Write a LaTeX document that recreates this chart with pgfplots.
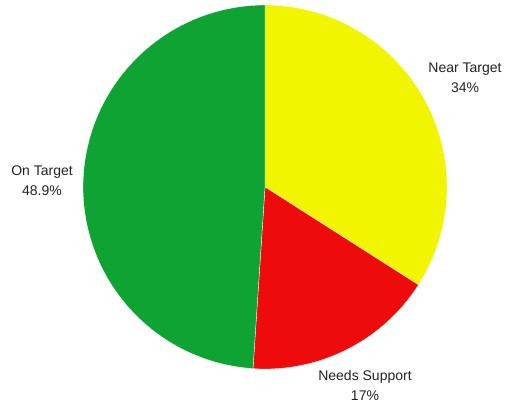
\documentclass[border=0pt]{standalone}
\usepackage{pgfplots}
\pgfplotsset{compat=1.18}
\usepackage{fontspec}
\setmainfont{Liberation Sans}
\definecolor{cNear}{HTML}{F2F500}
\definecolor{cNeeds}{HTML}{EE0B0B}
\definecolor{cOn}{HTML}{0FA333}
\definecolor{txt}{HTML}{222222}
% data (percent)
\def\vNear{34}
\def\vNeeds{17}
\def\vOn{48.9}
\pgfmathsetmacro{\tot}{\vNear+\vNeeds+\vOn}
\pgfmathsetmacro{\aA}{90}
\pgfmathsetmacro{\aB}{\aA-\vNear/\tot*360}
\pgfmathsetmacro{\aC}{\aB-\vNeeds/\tot*360}
\pgfmathsetmacro{\aD}{\aC-\vOn/\tot*360}
\def\cx{265}
\def\cy{220}
\def\rr{182}
\begin{document}
\begin{tikzpicture}
\begin{axis}[
  hide axis,
  scale only axis,
  width=510pt, height=407pt,
  xmin=0, xmax=510, ymin=0, ymax=407,
  clip=false,
]
\path[draw=none] (axis cs:0,0) rectangle (axis cs:510,407);
\addplot[draw=white, line width=0.3pt, fill=cNear, samples=120, domain=\aB:\aA, variable=\t]
  ({\cx+\rr*cos(\t)},{\cy+\rr*sin(\t)}) -- (axis cs:\cx,\cy) -- cycle;
\addplot[draw=white, line width=0.3pt, fill=cNeeds, samples=80, domain=\aC:\aB, variable=\t]
  ({\cx+\rr*cos(\t)},{\cy+\rr*sin(\t)}) -- (axis cs:\cx,\cy) -- cycle;
\addplot[draw=white, line width=0.3pt, fill=cOn, samples=160, domain=\aD:\aC, variable=\t]
  ({\cx+\rr*cos(\t)},{\cy+\rr*sin(\t)}) -- (axis cs:\cx,\cy) -- cycle;
\node[align=center, text=txt, font=\fontsize{14}{20}\selectfont] at (axis cs:465,329) {Near Target\\34\%};
\node[align=center, text=txt, font=\fontsize{14}{20}\selectfont] at (axis cs:365,22) {Needs Support\\17\%};
\node[align=center, text=txt, font=\fontsize{14}{20}\selectfont] at (axis cs:42,226) {On Target\\48.9\%};
\end{axis}
\end{tikzpicture}
\end{document}
